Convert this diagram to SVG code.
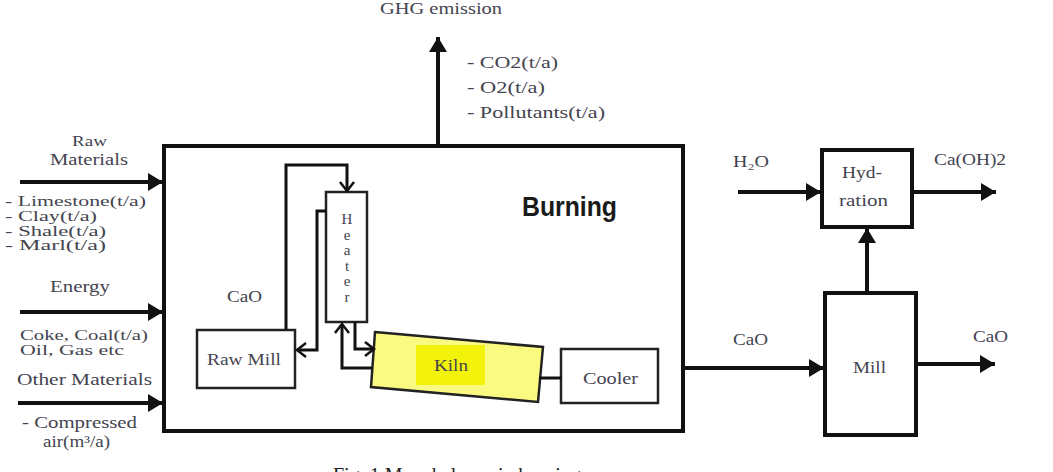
<svg xmlns="http://www.w3.org/2000/svg" width="1053" height="472" viewBox="0 0 1053 472">
<style>
.t{font-family:"Liberation Serif","DejaVu Serif",serif;font-size:16.5px;fill:#444450}
.s{font-size:15px}
.box{fill:#fff;stroke:#111;stroke-width:4}
.sbox{fill:#fff;stroke:#222;stroke-width:2.5}
.big{fill:none;stroke:#111;stroke-width:4;marker-end:url(#ah)}
.small{fill:none;stroke:#111;stroke-width:3;marker-end:url(#ch)}
.plain{fill:none;stroke:#111;stroke-width:3}
</style>
<defs>
<marker id="ah" markerUnits="userSpaceOnUse" markerWidth="16" markerHeight="18" refX="15" refY="9" orient="auto" overflow="visible">
<path d="M0,0 L15,9 L0,18 z" fill="#111"/>
</marker>
<marker id="ch" markerUnits="userSpaceOnUse" markerWidth="12" markerHeight="16" refX="9" refY="7" orient="auto" overflow="visible">
<path d="M0,0 L9,7 L0,14" fill="none" stroke="#111" stroke-width="2.5"/>
</marker>
</defs>
<rect width="1053" height="472" fill="#fff"/>

<g id="burning">
<rect class="box" x="164" y="146" width="519" height="285"/>
<text x="522" y="216" font-family="'Liberation Sans',Arial,sans-serif" font-weight="bold" font-size="27" fill="#1a1a1a" textLength="95" lengthAdjust="spacingAndGlyphs">Burning</text>
</g>

<g id="rawmill">
<rect class="sbox" x="197" y="330" width="98" height="58"/>
<text class="t" x="207" y="365" textLength="74" lengthAdjust="spacingAndGlyphs">Raw Mill</text>
</g>

<g id="heater">
<rect class="sbox" x="326" y="192" width="41" height="130"/>
<g class="t s" text-anchor="middle">
<text x="347" y="224">H</text>
<text x="347" y="240">e</text>
<text x="347" y="255">a</text>
<text x="347" y="271">t</text>
<text x="347" y="286">e</text>
<text x="347" y="302">r</text>
</g>
</g>

<g id="kiln">
<polygon points="375,332 543,347 538,402 371,387" fill="#fafa82" stroke="#222" stroke-width="2.5"/>
<rect x="416" y="345" width="69" height="40" fill="#f2f20a"/>
<text class="t" x="434" y="371" textLength="34" lengthAdjust="spacingAndGlyphs">Kiln</text>
</g>

<g id="cooler">
<rect class="sbox" x="561" y="349" width="97" height="54"/>
<text class="t" x="583" y="384" textLength="55" lengthAdjust="spacingAndGlyphs">Cooler</text>
</g>

<g id="hydration">
<rect class="box" x="822" y="150" width="90" height="77"/>
<text class="t" x="842" y="178" textLength="40" lengthAdjust="spacingAndGlyphs">Hyd-</text>
<text class="t" x="839" y="206" textLength="49" lengthAdjust="spacingAndGlyphs">ration</text>
</g>

<g id="mill">
<rect class="box" x="825" y="293" width="91" height="142"/>
<text class="t" x="853" y="373" textLength="33" lengthAdjust="spacingAndGlyphs">Mill</text>
</g>

<g id="connectors">
<path class="big" d="M438,145 V37"/>
<path class="big" d="M20,182 H163"/>
<path class="big" d="M20,312 H163"/>
<path class="big" d="M18,403 H163"/>
<path class="small" d="M286,330 V165 H347 V191"/>
<path class="small" d="M326,211 H317 V350 H297"/>
<path class="small" d="M355,322 V349 H374"/>
<path class="small" d="M372,368 H342 V324"/>
<path class="plain" d="M539,378 H561"/>
<path class="big" d="M683,368 H824"/>
<path class="big" d="M738,192 H821"/>
<path class="big" d="M912,192 H996"/>
<path class="big" d="M867,293 V228"/>
<path class="big" d="M916,364 H995"/>
</g>

<g id="labels">
<text class="t" x="380" y="14" textLength="122" lengthAdjust="spacingAndGlyphs">GHG emission</text>
<text class="t" x="467" y="68" textLength="91" lengthAdjust="spacingAndGlyphs">- CO2(t/a)</text>
<text class="t" x="467" y="93" textLength="78" lengthAdjust="spacingAndGlyphs">- O2(t/a)</text>
<text class="t" x="467" y="118" textLength="138" lengthAdjust="spacingAndGlyphs">- Pollutants(t/a)</text>

<text class="t s" x="72" y="146" textLength="35" lengthAdjust="spacingAndGlyphs">Raw</text>
<text class="t" x="50" y="165" textLength="78" lengthAdjust="spacingAndGlyphs">Materials</text>
<text class="t s" x="5" y="206" textLength="141" lengthAdjust="spacingAndGlyphs">- Limestone(t/a)</text>
<text class="t s" x="5" y="221" textLength="92" lengthAdjust="spacingAndGlyphs">- Clay(t/a)</text>
<text class="t s" x="5" y="236" textLength="101" lengthAdjust="spacingAndGlyphs">- Shale(t/a)</text>
<text class="t s" x="5" y="250" textLength="101" lengthAdjust="spacingAndGlyphs">- Marl(t/a)</text>
<text class="t" x="50" y="292" textLength="60" lengthAdjust="spacingAndGlyphs">Energy</text>
<text class="t s" x="20" y="340" textLength="128" lengthAdjust="spacingAndGlyphs">Coke, Coal(t/a)</text>
<text class="t s" x="20" y="355" textLength="104" lengthAdjust="spacingAndGlyphs">Oil, Gas etc</text>
<text class="t" x="17" y="385" textLength="135" lengthAdjust="spacingAndGlyphs">Other Materials</text>
<text class="t" x="22" y="428" textLength="115" lengthAdjust="spacingAndGlyphs">- Compressed</text>
<text class="t" x="43" y="447" textLength="67" lengthAdjust="spacingAndGlyphs">air(m³/a)</text>

<text class="t" x="227" y="302" textLength="35" lengthAdjust="spacingAndGlyphs">CaO</text>
<text class="t" x="733" y="167" textLength="36" lengthAdjust="spacingAndGlyphs">H₂O</text>
<text class="t" x="934" y="165" textLength="72" lengthAdjust="spacingAndGlyphs">Ca(OH)2</text>
<text class="t" x="733" y="345" textLength="35" lengthAdjust="spacingAndGlyphs">CaO</text>
<text class="t" x="973" y="342" textLength="35" lengthAdjust="spacingAndGlyphs">CaO</text>

<text x="333" y="482" font-family="'Liberation Serif',serif" font-size="20" fill="#222">Fig. 1 Mass balance in burning process</text>
</g>
</svg>
